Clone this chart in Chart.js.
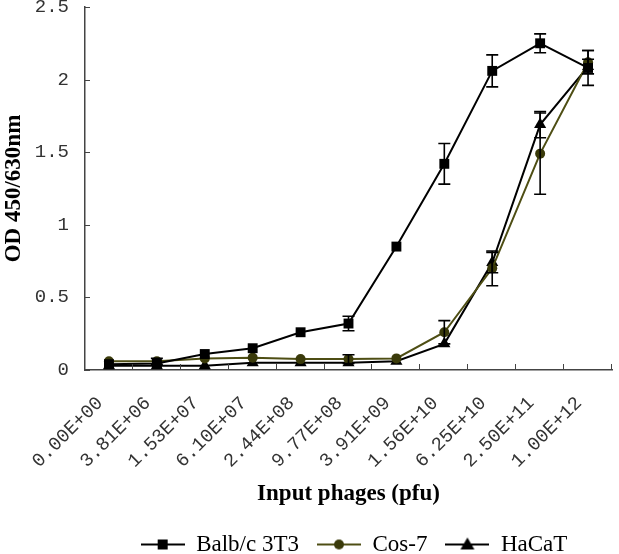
<!DOCTYPE html>
<html>
<head>
<meta charset="utf-8">
<script src="https://cdn.jsdelivr.net/npm/chart.js@4"></script>
<style>
  html, body { margin: 0; padding: 0; background: #fff; }
  #wrap { width: 619px; height: 554px; position: relative; }
</style>
</head>
<body>
<div id="wrap"><canvas id="odChart"></canvas></div>
<script>
// 入力ファージ量（カテゴリ）
const categories = ['0.00E+00', '3.81E+06', '1.53E+07', '6.10E+07', '2.44E+08', '9.77E+08',
                    '3.91E+09', '1.56E+10', '6.25E+10', '2.50E+11', '1.00E+12'];

// 各細胞の OD 値と誤差
const balb = [0.04, 0.045, 0.11, 0.15, 0.26, 0.32, 0.85, 1.42, 2.06, 2.25, 2.08];
const balbErr = [0, 0, 0, 0, 0, 0.05, 0, 0.14, 0.11, 0.065, 0.12];
const cos7 = [0.06, 0.06, 0.08, 0.085, 0.075, 0.075, 0.08, 0.26, 0.70, 1.49, 2.12];
const cos7Err = [0, 0.02, 0, 0, 0, 0.03, 0, 0.08, 0.12, 0.28, 0.08];
const hacat = [0.03, 0.03, 0.03, 0.05, 0.05, 0.05, 0.06, 0.18, 0.74, 1.69, 2.09];
const hacatErr = [0, 0, 0, 0, 0, 0, 0, 0, 0.07, 0.09, 0.05];

const yTicks = [0, 0.5, 1, 1.5, 2, 2.5];

const olive = '#4e4e14';
const oliveDark = '#3a3a0a';

// 凡例用の線＋マーカー画像
function legendIcon(color, fill, style) {
    const c = document.createElement('canvas');
    c.width = 44; c.height = 16;
    const g = c.getContext('2d');
    g.strokeStyle = color;
    g.lineWidth = 2;
    g.beginPath(); g.moveTo(0, 8); g.lineTo(44, 8); g.stroke();
    g.fillStyle = fill;
    if (style === 'rect') {
        g.fillRect(17, 3, 10, 10);
    } else if (style === 'circle') {
        g.beginPath(); g.arc(22, 8, 5, 0, Math.PI * 2); g.fill();
    } else {
        g.beginPath(); g.moveTo(22, 1); g.lineTo(29, 13); g.lineTo(15, 13); g.closePath(); g.fill();
    }
    return c;
}

const errors = [balbErr, cos7Err, hacatErr];

// 誤差棒と内向き目盛り
const extras = {
    id: 'extras',
    afterLayout(chart) {
        // 凡例をプロット中央にそろえる
        chart.legend.left += 45;
        chart.legend.right += 45;
    },
    afterDatasetsDraw(chart) {
        const ctx = chart.ctx;
        const y = chart.scales.y;
        const x = chart.scales.x;
        ctx.save();
        ctx.strokeStyle = '#000';
        ctx.lineWidth = 1.6;
        errors.forEach((errs, di) => {
            const meta = chart.getDatasetMeta(di);
            const vals = chart.data.datasets[di].data;
            meta.data.forEach((pt, i) => {
                const e = errs[i];
                if (!e) return;
                const top = y.getPixelForValue(vals[i] + e);
                const bot = y.getPixelForValue(vals[i] - e);
                ctx.beginPath();
                ctx.moveTo(pt.x, top); ctx.lineTo(pt.x, bot);
                ctx.moveTo(pt.x - 6, top); ctx.lineTo(pt.x + 6, top);
                ctx.moveTo(pt.x - 6, bot); ctx.lineTo(pt.x + 6, bot);
                ctx.stroke();
            });
        });
        // 目盛り
        ctx.strokeStyle = '#444';
        ctx.lineWidth = 1;
        yTicks.forEach(v => {
            const py = Math.round(y.getPixelForValue(v)) + 0.5;
            ctx.beginPath(); ctx.moveTo(x.left, py); ctx.lineTo(x.left + 5, py); ctx.stroke();
        });
        const step = (x.right - x.left) / categories.length;
        for (let i = 1; i <= categories.length; i++) {
            const px = Math.round(x.left + step * i) - 0.5;
            ctx.beginPath(); ctx.moveTo(px, y.bottom); ctx.lineTo(px, y.bottom - 6); ctx.stroke();
        }
        ctx.restore();
    }
};

const ctx = document.getElementById('odChart').getContext('2d');
const odChart = new Chart(ctx, {
    type: 'line',
    data: {
        labels: categories,
        datasets: [{
            label: 'Balb/c 3T3',
            data: balb,
            borderColor: '#000',
            backgroundColor: '#000',
            borderWidth: 2,
            pointStyle: 'rect',
            pointRadius: 7,
            pointBorderWidth: 0,
            icon: legendIcon('#000', '#000', 'rect')
        }, {
            label: 'Cos-7',
            data: cos7,
            borderColor: olive,
            backgroundColor: oliveDark,
            borderWidth: 2,
            pointStyle: 'circle',
            pointRadius: 5,
            pointBorderWidth: 0,
            icon: legendIcon(olive, oliveDark, 'circle')
        }, {
            label: 'HaCaT',
            data: hacat,
            borderColor: '#000',
            backgroundColor: '#000',
            borderWidth: 2,
            pointStyle: 'triangle',
            pointRadius: 7,
            pointBorderWidth: 0,
            icon: legendIcon('#000', '#000', 'tri')
        }]
    },
    options: {
        responsive: true,
        maintainAspectRatio: false,
        animation: false,
        layout: { padding: { top: 5, right: 1, left: 0, bottom: -12 } },
        plugins: {
            tooltip: { enabled: false },
            legend: {
                position: 'bottom',
                labels: {
                    color: '#000',
                    font: { family: 'Liberation Serif', size: 23 },
                    usePointStyle: true,
                    pointStyleWidth: 44,
                    boxHeight: 16,
                    padding: 18,
                    generateLabels(chart) {
                        return chart.data.datasets.map((ds, i) => ({
                            text: ds.label,
                            pointStyle: ds.icon,
                            fillStyle: ds.backgroundColor,
                            strokeStyle: ds.borderColor,
                            lineWidth: 0,
                            fontColor: '#000',
                            datasetIndex: i,
                            hidden: false
                        }));
                    }
                }
            }
        },
        scales: {
            x: {
                offset: true,
                grid: { display: false },
                border: { display: true, color: '#444', width: 1.5 },
                ticks: {
                    color: '#333',
                    font: { family: 'Liberation Mono', size: 19 },
                    maxRotation: 45,
                    minRotation: 45,
                    padding: 14,
                    labelOffset: -9,
                    autoSkip: false
                },
                title: {
                    display: true,
                    text: 'Input phages (pfu)',
                    color: '#000',
                    font: { family: 'Liberation Serif', size: 23, weight: 'bold' },
                    padding: { top: 0, bottom: 7 }
                },
                afterFit(scale) { scale.height = 145; }
            },
            y: {
                min: 0,
                max: 2.5,
                grid: { display: false },
                border: { display: true, color: '#444', width: 1.5 },
                afterBuildTicks(scale) { scale.ticks = yTicks.map(v => ({ value: v })); },
                ticks: {
                    color: '#333',
                    font: { family: 'Liberation Mono', size: 19 },
                    padding: 8,
                    callback: v => String(v)
                },
                title: {
                    display: true,
                    text: 'OD 450/630nm',
                    color: '#000',
                    font: { family: 'Liberation Serif', size: 23, weight: 'bold' },
                    padding: { top: 0, bottom: 0 }
                },
                afterFit(scale) {
                    scale.width = 85;
                    scale.paddingTop = 0;
                    scale.paddingBottom = 0;
                }
            }
        }
    },
    plugins: [extras]
});
</script>
</body>
</html>
